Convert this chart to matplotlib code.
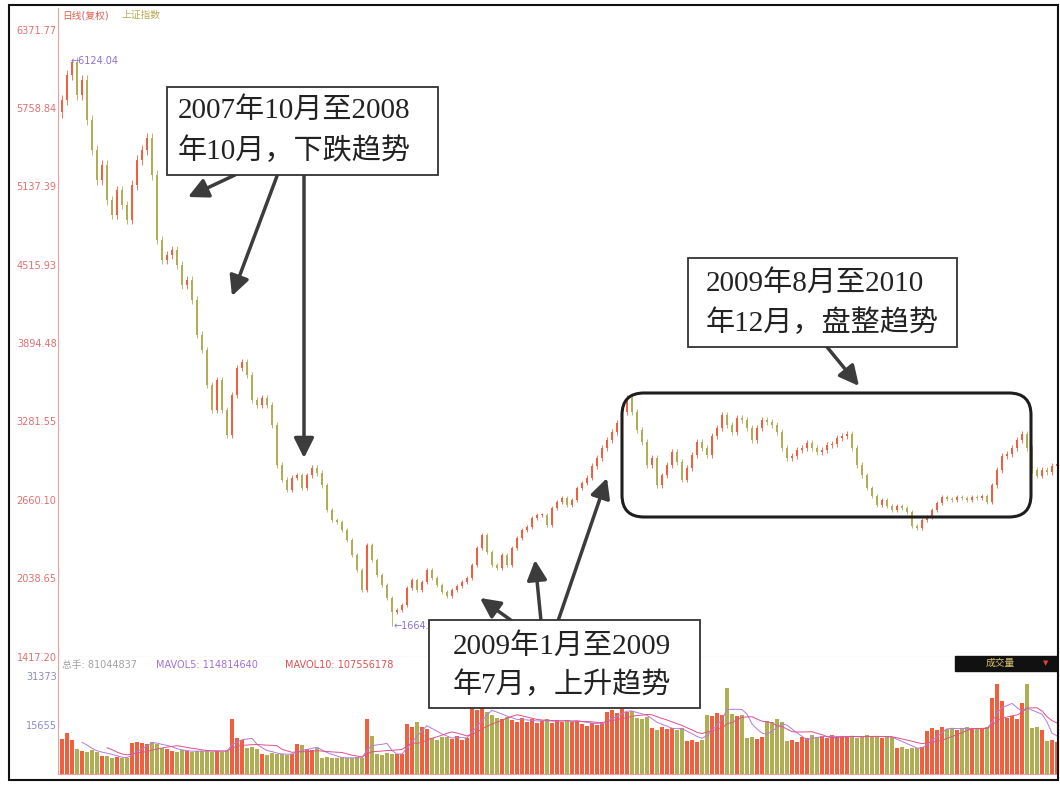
import numpy as np
import matplotlib
matplotlib.use("Agg")
import matplotlib.pyplot as plt
from matplotlib.patches import Rectangle, FancyBboxPatch, FancyArrowPatch

plt.rcParams['font.family'] = ['DejaVu Sans', 'Noto Sans CJK SC']

# weekly-ish closes of the Shanghai index, Oct 2007 - early 2011
first_open = 5720
closes = [
    5819, 6016, 6119, 5858, 5977, 5661, 5423, 5186, 5305, 5028,
    4910, 5107, 4989, 4870, 5147, 5344, 5423, 5518, 5226, 4712,
    4554, 4593, 4633, 4515, 4357, 4396, 4238, 3962, 3843, 3567,
    3369, 3606, 3369, 3171, 3487, 3701, 3748, 3646, 3448, 3409,
    3464, 3409, 3250, 2934, 2816, 2737, 2832, 2855, 2753, 2855,
    2911, 2871, 2776, 2579, 2500, 2484, 2421, 2342, 2223, 2105,
    1947, 2302, 2184, 2065, 1986, 1883, 1773, 1789, 1828, 1962,
    2026, 1947, 2010, 2105, 2041, 1986, 1931, 1899, 1947, 1978,
    2010, 2041, 2144, 2278, 2381, 2247, 2144, 2120, 2223, 2144,
    2278, 2357, 2421, 2444, 2516, 2539, 2539, 2460, 2595, 2642,
    2674, 2618, 2658, 2753, 2792, 2832, 2926, 2990, 3069, 3132,
    3195, 3266, 3353, 3464, 3353, 3211, 3116, 2934, 2990, 2776,
    2855, 2934, 3037, 2958, 2816, 2911, 3013, 3116, 3069, 3013,
    3163, 3227, 3329, 3250, 3195, 3306, 3290, 3227, 3132, 3227,
    3290, 3274, 3250, 3195, 3069, 2990, 3005, 3053, 3069, 3108,
    3069, 3037, 3053, 3092, 3100, 3148, 3163, 3179, 3069, 2934,
    2855, 2753, 2689, 2618, 2658, 2610, 2579, 2610, 2595, 2563,
    2452, 2437, 2500, 2523, 2579, 2634, 2682, 2666, 2658, 2682,
    2674, 2658, 2682, 2674, 2689, 2642, 2776, 2895, 3005, 3021,
    3069, 3132, 3179, 3069, 2895, 2848, 2895, 2879, 2926, 2943,
]

volumes = [
    11200, 13100, 11000, 8000, 7400, 7000, 7600, 7200, 5800, 5700,
    5100, 5300, 5000, 5200, 9900, 10400, 9800, 9600, 10200, 9500,
    8300, 8100, 7400, 7200, 7600, 7300, 7000, 7500, 7300, 7700,
    7100, 7400, 7200, 7500, 17600, 11500, 11000, 8300, 8600, 8000,
    6400, 6200, 6600, 6300, 6500, 6100, 6400, 9600, 9200, 8000,
    7800, 8200, 5100, 5300, 5000, 5200, 5400, 5100, 5000, 5300,
    5200, 17600, 12100, 6400, 6200, 6600, 6300, 6500, 6400, 16000,
    15200, 16500, 15000, 14500, 11500, 11000, 12000, 11800, 11200, 12200,
    11000, 11500, 21000, 20500, 21500, 20000, 19000, 18000, 17500, 18200,
    17200, 16500, 17800, 16800, 17500, 16200, 17000, 17600, 16400, 17200,
    16800, 17400, 16600, 17000, 16000, 15500, 16400, 15800, 16200, 20000,
    20500, 19500, 20800, 19800, 20200, 18000, 17500, 18200, 14700, 14200,
    15000, 14500, 14800, 14000, 14600, 10500, 10800, 10200, 11000, 19000,
    18500, 19500, 18800, 27500, 19200, 18600, 19000, 11500, 11800, 11200,
    12000, 17000, 16500, 17500, 16800, 10500, 10800, 10200, 12000, 11500,
    12500, 11800, 12200, 11600, 12400, 11900, 12100, 11700, 12300, 11500,
    12000, 12600, 11800, 12200, 11400, 12000, 11700, 8300, 8600, 8000,
    8400, 8200, 8500, 13800, 14700, 14200, 15000, 14500, 14800, 14000,
    14600, 15000, 14300, 14700, 14400, 14900, 24300, 28800, 23500, 17900,
    18500, 17500, 22700, 28800, 14700, 15200, 14200, 10500, 10800, 10200,
]

price_ticks = [6371.77, 5758.84, 5137.39, 4515.93, 3894.48, 3281.55, 2660.10, 2038.65, 1417.20]
vol_ticks = [31373, 15655]
peak_high = 6124.04
trough_low = 1664.93

header_left = "日线(复权)"
header_right = "上证指数"
vol_header = ["总手: 81044837", "MAVOL5: 114814640", "MAVOL10: 107556178"]

box_down = ["2007年10月至2008", "年10月，下跌趋势"]
box_flat = ["2009年8月至2010", "年12月，盘整趋势"]
box_up = ["2009年1月至2009", "年7月，上升趋势"]

UP = '#f0603f'
DOWN = '#b0ad55'
PINK = '#e9a0a0'

fig = plt.figure(figsize=(10.6, 7.87), dpi=100)
W, H = 1060, 787


def fx(x, y):
    # pixel (from top-left) -> figure inches
    return x / 100, (H - y) / 100


ax = fig.add_axes([58 / W, 1 - 657 / H, 999 / W, 649 / H])
axv = fig.add_axes([58 / W, 1 - 774 / H, 999 / W, 117 / H])

c = np.array(closes, dtype=float)
o = np.concatenate([[first_open], c[:-1]])
idx = np.arange(len(c))
top = np.maximum(o, c)
bot = np.minimum(o, c)
hi = top + top * 0.007
lo = bot - bot * 0.007
hi[np.argmax(c)] = peak_high
lo[np.argmin(c)] = trough_low
up = c >= o
cols = np.where(up, UP, DOWN)

ax.vlines(idx, lo, hi, colors=cols, lw=0.6)
ax.bar(idx, np.maximum(top - bot, 6), bottom=bot, width=0.42, color=cols, lw=0)

ax.set_xlim(-0.8, len(c) - 1)
ax.set_ylim(1417.2, 6545.6)
ax.set_yticks(price_ticks)
ax.set_yticklabels([f"{v:.2f}" for v in price_ticks])
ax.set_xticks([])
ax.tick_params(axis='y', length=0, pad=1, labelsize=7, labelcolor='#e07070')
for s in ['left', 'bottom', 'right']:
    ax.spines[s].set_color(PINK)
ax.spines['top'].set_visible(False)

ax.text(np.argmax(c) - 0.3, peak_high, "←" + f"{peak_high:.2f}", color='#8a70d8',
        fontsize=7, va='center', ha='left')
ax.text(np.argmin(c) + 0.3, trough_low, "←" + f"{trough_low:.2f}", color='#8a70d8',
        fontsize=7, va='center', ha='left')

# volume panel
v = np.array(volumes, dtype=float)
axv.bar(idx, v, width=0.85, color=cols, lw=0)
ma5 = np.convolve(v, np.ones(5) / 5, mode='valid')
ma10 = np.convolve(v, np.ones(10) / 10, mode='valid')
axv.plot(idx[4:], ma5, color='#b27be0', lw=0.7)
axv.plot(idx[9:], ma10, color='#e0508a', lw=0.7)
axv.set_xlim(-0.8, len(c) - 1)
axv.set_ylim(0, 37440)
axv.set_yticks(vol_ticks)
axv.set_yticklabels([str(t) for t in vol_ticks])
axv.set_xticks([])
axv.tick_params(axis='y', length=0, pad=1, labelsize=7, labelcolor='#8a8ac8')
for s in ['left', 'bottom', 'right']:
    axv.spines[s].set_color(PINK)
axv.spines['top'].set_visible(False)

T = fig.dpi_scale_trans

# headers
fig.text(*fx(62, 15), header_left, transform=T, color='#e06050', fontsize=7, va='center')
fig.text(*fx(122, 15), header_right, transform=T, color='#b8a850', fontsize=7, va='center')
fig.text(*fx(62, 665), vol_header[0], transform=T, color='#a0a0a0', fontsize=7, va='center')
fig.text(*fx(156, 665), vol_header[1], transform=T, color='#a070d8', fontsize=7, va='center')
fig.text(*fx(285, 665), vol_header[2], transform=T, color='#e05050', fontsize=7, va='center')

fig.add_artist(Rectangle(fx(955, 671), 1.02, 0.15, transform=T, color='#111111'))
fig.text(*fx(1000, 663), "成交量", transform=T, color='#d8c070', fontsize=7, va='center', ha='center')
fig.text(*fx(1046, 663), "▼", transform=T, color='#e04040', fontsize=5, va='center', ha='center')

# outer frame
fig.add_artist(Rectangle(fx(9, 780), 10.49, 7.75, transform=T, fill=False, ec='#111111', lw=1.5))

# annotation arrows
arrow_kw = dict(arrowstyle='-|>,head_length=1.0,head_width=0.5', mutation_scale=12,
                lw=2.5, color='#3c3c3c', transform=T, shrinkA=0, shrinkB=0, zorder=3)
for a, b in [((235, 175), (188, 197)), ((277, 176), (232, 296)), ((304, 176), (304, 458)),
             ((827, 347), (859, 386)),
             ((512, 621), (480, 598)), ((541, 621), (535, 560)), ((558, 621), (607, 478))]:
    fig.add_artist(FancyArrowPatch(fx(*a), fx(*b), **arrow_kw))

fig.add_artist(FancyBboxPatch(fx(622, 517), 4.09, 1.24, boxstyle='round,pad=0,rounding_size=0.22',
                              transform=T, fill=False, ec='#1e1e1e', lw=2.2, zorder=3))

serif = ['Liberation Serif', 'Noto Sans CJK SC']
for (l, t, r, b), lines, tx, ys in [((167, 87, 438, 175), box_down, 178, (110, 151)),
                                    ((688, 258, 957, 347), box_flat, 706, (283, 323)),
                                    ((429, 620, 700, 708), box_up, 453, (646, 685))]:
    fig.add_artist(Rectangle(fx(l, b), (r - l) / 100, (b - t) / 100, transform=T,
                             fc='white', ec='#333333', lw=1.3, zorder=4))
    for s, y in zip(lines, ys):
        fig.text(*fx(tx, y), s, transform=T, family=serif, fontsize=21, color='#222222',
                 va='center', ha='left', zorder=5)

fig.savefig('out.png', dpi=100)
